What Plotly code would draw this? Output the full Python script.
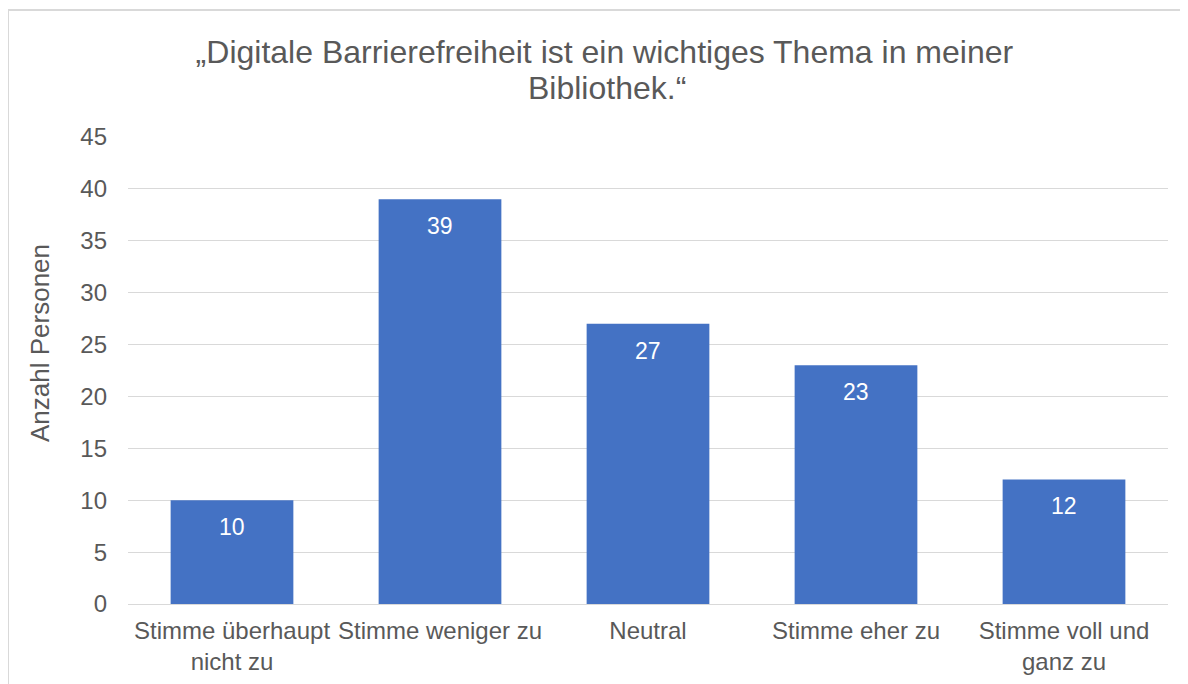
import plotly.graph_objects as go

categories = ["Stimme überhaupt<br>nicht zu", "Stimme weniger zu", "Neutral", "Stimme eher zu", "Stimme voll und<br>ganz zu"]
counts = [10, 39, 27, 23, 12]
y_ticks = [0, 5, 10, 15, 20, 25, 30, 35, 40, 45]

TITLE_LINE_1 = "„Digitale Barrierefreiheit ist ein wichtiges Thema in meiner"
TITLE_LINE_2 = "Bibliothek.“"
Y_TITLE = "Anzahl Personen"

TEXT_COLOR = "#595959"

fig = go.Figure(
    go.Bar(
        x=categories,
        y=counts,
        marker={"color": "#4472C4", "line": {"width": 0}},
        textposition="none",
        hoverinfo="x+y",
    )
)

# value labels sit a little below the top of each bar, like the Excel original
for cat, val in zip(categories, counts):
    fig.add_annotation(
        x=cat,
        y=val,
        text=str(val),
        showarrow=False,
        yanchor="middle",
        yshift=-27,
        font={"color": "white", "size": 23},
    )

# second title line as its own annotation to get Excel's tighter line spacing
fig.add_annotation(
    xref="paper",
    yref="paper",
    x=(607 - 128) / 1040,
    y=(604 - 88) / 467,
    text=TITLE_LINE_2,
    showarrow=False,
    xanchor="center",
    yanchor="middle",
    font={"size": 32, "color": TEXT_COLOR},
)

# y axis title placed by hand: Excel puts it a bit above the plot's middle
fig.add_annotation(
    xref="paper",
    yref="paper",
    x=-88 / 1040,
    y=(604 - 343) / 467,
    text=Y_TITLE,
    textangle=-90,
    showarrow=False,
    xanchor="center",
    yanchor="middle",
    font={"size": 26, "color": TEXT_COLOR},
)

fig.update_layout(
    width=1188,
    height=684,
    paper_bgcolor="white",
    plot_bgcolor="white",
    font={"family": "Liberation Sans, Arial, sans-serif", "color": TEXT_COLOR, "size": 24},
    title={
        "text": TITLE_LINE_1,
        "x": 0.502,
        "xanchor": "center",
        "y": 1 - 44 / 684,
        "yanchor": "middle",
        "font": {"size": 32, "color": TEXT_COLOR},
    },
    bargap=0.41,
    showlegend=False,
    margin={"l": 120, "r": 28, "t": 129, "b": 88},
    shapes=[
        {
            "type": "rect",
            "xref": "paper",
            "yref": "paper",
            "x0": -120 / 1040,
            "x1": 1.05,
            "y0": -0.3,
            "y1": 1 + 127 / 467,
            "line": {"color": "#d9d9d9", "width": 2},
            "layer": "below",
        }
    ],
)

fig.update_yaxes(
    range=[0, 45],
    tickvals=y_ticks,
    showgrid=True,
    gridcolor="#d9d9d9",
    gridwidth=1,
    zeroline=False,
    ticks="",
    ticklen=0,
    ticklabelstandoff=20,
    tickfont={"size": 24, "color": TEXT_COLOR},
)
fig.update_xaxes(
    showline=True,
    linecolor="#d9d9d9",
    linewidth=1,
    ticks="",
    ticklabelstandoff=5,
    tickfont={"size": 24, "color": TEXT_COLOR},
)

fig.write_html("out.html")
